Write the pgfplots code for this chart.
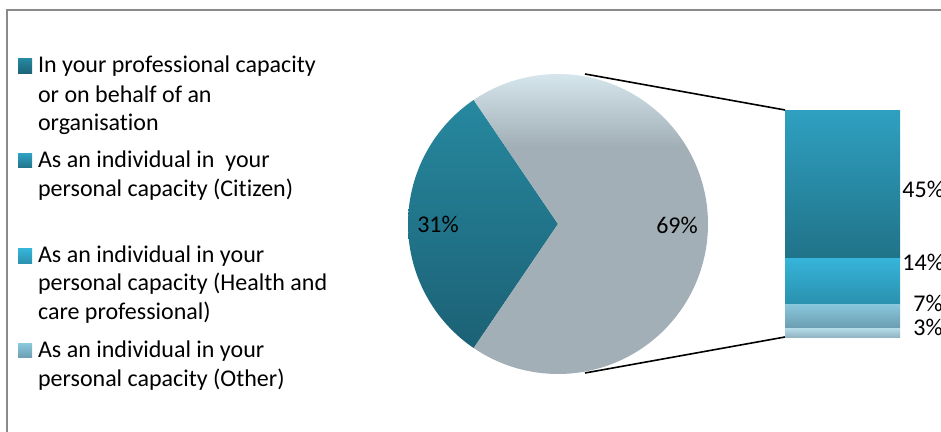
\documentclass[border=0pt]{standalone}
\usepackage{pgfplots}
\pgfplotsset{compat=1.18}
\usepackage{pgfplotstable}
\usepackage{fontspec}
\setmainfont{Carlito}[Ligatures={NoCommon}]

\definecolor{profT}{HTML}{26889F}
\definecolor{profB}{HTML}{1C6175}
\definecolor{othL}{HTML}{D6E6ED}
\definecolor{othG}{HTML}{A2AFB6}
\definecolor{citT}{HTML}{2FA0C1}
\definecolor{citB}{HTML}{207388}
\definecolor{heaT}{HTML}{36B4D9}
\definecolor{heaB}{HTML}{2A90AD}
\definecolor{otT}{HTML}{88C6DB}
\definecolor{otB}{HTML}{6B9DB1}
\definecolor{fifT}{HTML}{B5DCE9}
\definecolor{fifB}{HTML}{8EB0BF}
\definecolor{frame}{HTML}{8A8A8A}

\pgfdeclareverticalshading{othshade}{100bp}{color(0bp)=(othG); color(63bp)=(othG); color(75bp)=(othL); color(100bp)=(othL)}

% pie: share of the two groups (percent)
\pgfplotstableread{
part value
Professional 31
Individual 69
}\pietable
% bar: breakdown of the 69% group (percent), one column per series
\pgfplotstableread{
x unl oth hea cit
0.5 3 7 14 45
}\bartable

\newcommand\lfont{\fontsize{12}{14.5}\selectfont}

\begin{document}
\begin{tikzpicture}
\pgfplotstablegetelem{0}{value}\of\pietable
\pgfmathsetmacro\aStart{180-\pgfplotsretval*1.8}
\pgfmathsetmacro\aEnd{180+\pgfplotsretval*1.8}
\pgfmathsetmacro\aLow{\aEnd-360}
\path[use as bounding box] (0,0) rectangle (470.5pt,216pt);

% pixel-scaled axis: pie, connectors, labels, legend
\begin{axis}[at={(0,0)}, anchor=south west, scale only axis,
  width=470.5pt, height=216pt, xmin=0, xmax=941, ymin=0, ymax=432,
  hide axis, clip=false]
\draw[frame, line width=0.75pt] (7,-20) |- (980,422);
% 31% slice
\addplot[draw=none, top color=profT, bottom color=profB, domain=\aStart:\aEnd, samples=120]
  ({558+150*cos(x)}, {208+150*sin(x)}) -- (558,208) -- cycle;
% 69% slice
\addplot[draw=none, shade, shading=othshade, domain=\aLow:\aStart, samples=200]
  ({558+150*cos(x)}, {208+150*sin(x)}) -- (558,208) -- cycle;
% connector lines
\addplot[black, line width=0.8pt] coordinates {(585,358) (785,322)};
\addplot[black, line width=0.8pt] coordinates {(585,59) (785,95)};
% pie labels
\node[font=\lfont] at (438,208) {31\%};
\node[font=\lfont] at (677,207) {69\%};
% bar labels
\node[anchor=west, inner sep=0pt, font=\lfont] at (902,243) {45\%};
\node[anchor=west, inner sep=0pt, font=\lfont] at (902,170) {14\%};
\node[anchor=west, inner sep=0pt, font=\lfont] at (913,129) {7\%};
\node[anchor=west, inner sep=0pt, font=\lfont] at (913,105) {3\%};
% legend
\shade[top color=profT, bottom color=profB] (18,373) rectangle (32,358);
\shade[top color=citT, bottom color=citB] (18,278) rectangle (32,264);
\shade[top color=heaT, bottom color=heaB] (18,183) rectangle (32,168);
\shade[top color=otT, bottom color=otB] (18,88) rectangle (32,74);
\begin{scope}[every node/.style={anchor=base west, inner sep=0pt, font=\lfont}]
\node at (37.7,359) {In your professional capacity};
\node at (37.7,329) {or on behalf of an};
\node at (37.7,301) {organisation};
\node at (37.7,264) {As an individual in~ your};
\node at (37.7,235) {personal capacity (Citizen)};
\node at (37.7,169) {As an individual in your};
\node at (37.7,141) {personal capacity (Health and};
\node at (37.7,112) {care professional)};
\node at (37.7,74) {As an individual in your};
\node at (37.7,45) {personal capacity (Other)};
\end{scope}
\end{axis}

% stacked bar
\begin{axis}[at={(392.5pt,47pt)}, anchor=south west, scale only axis,
  width=57.5pt, height=114pt, xmin=0, xmax=1, ymin=0, ymax=69,
  hide axis, ybar stacked, bar width=57.5pt, clip=false]
\addplot[draw=none, top color=fifT, bottom color=fifB] table[x=x, y=unl] \bartable;
\addplot[draw=none, top color=otT, bottom color=otB] table[x=x, y=oth] \bartable;
\addplot[draw=none, top color=heaT, bottom color=heaB] table[x=x, y=hea] \bartable;
\addplot[draw=none, top color=citT, bottom color=citB] table[x=x, y=cit] \bartable;
\end{axis}
\end{tikzpicture}
\end{document}
